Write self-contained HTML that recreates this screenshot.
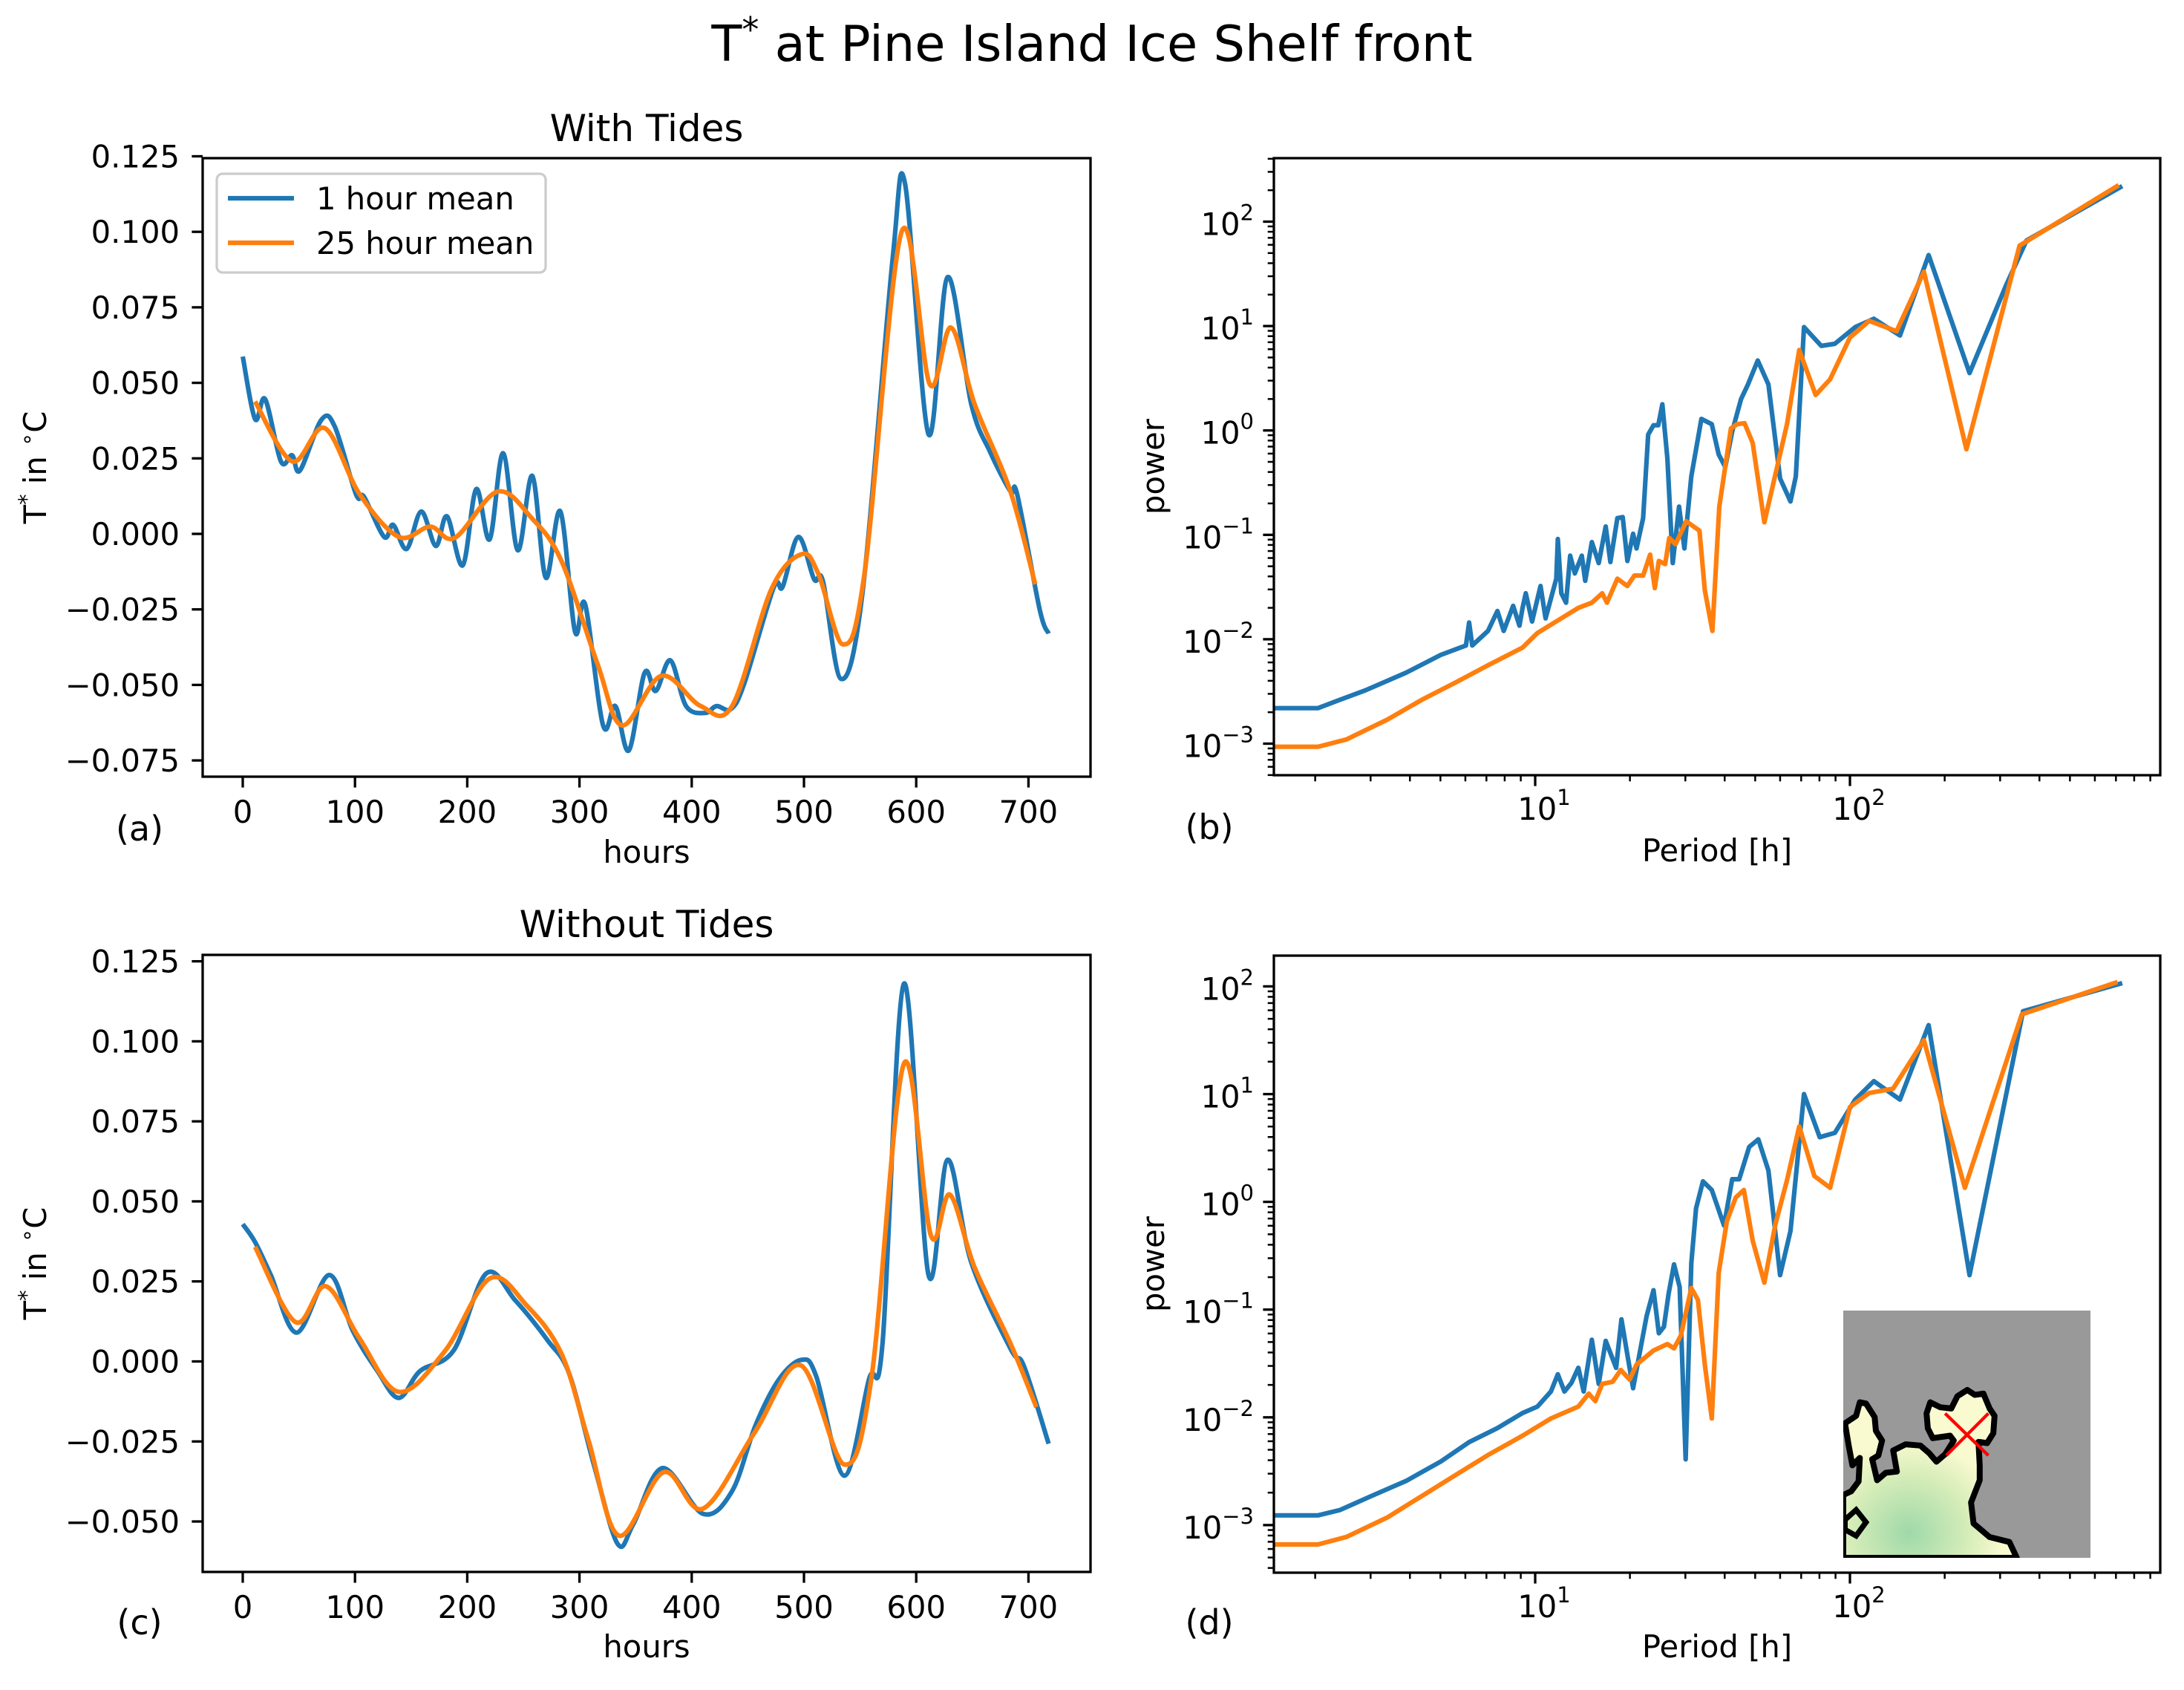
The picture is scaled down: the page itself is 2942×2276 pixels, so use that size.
<!DOCTYPE html>
<html><head><meta charset="utf-8"><style>
html,body{margin:0;padding:0;background:#fff;}
svg{display:block;font-family:"DejaVu Sans","Liberation Sans",sans-serif;}
</style></head><body>
<svg id="fig" xmlns="http://www.w3.org/2000/svg" width="2942" height="2276" viewBox="0 0 2942 2276">
<rect x="0" y="0" width="2942" height="2276" fill="#fff"/>
<text x="1471" y="82" font-size="67" text-anchor="middle">T<tspan font-size="46" dy="-26">*</tspan><tspan dy="26"> at Pine Island Ice Shelf front</tspan></text>
</svg>
<script>
// ---------- data: panel (a) with tides ----------
const hoursA1h=[0,11,20,34,44,51,70,82,101,108,126,134,146,159,172,182,196,208,220,232,245,258,270,283,296,305,321,332,344,358,368,381,395,412,422,435,447,473,481,495,509,517,533,552,579,590,611,628,649,666,684,690,710,718];
const tempA1h=[0.0587,0.038,0.0446,0.024,0.026,0.021,0.0377,0.0355,0.013,0.0123,-0.001,0.003,-0.005,0.0074,-0.004,0.0058,-0.0104,0.0148,-0.0018,0.0267,-0.0054,0.0192,-0.0145,0.0074,-0.0324,-0.0233,-0.0634,-0.057,-0.0717,-0.046,-0.052,-0.0419,-0.057,-0.0593,-0.057,-0.058,-0.0493,-0.0178,-0.0175,-0.001,-0.015,-0.0158,-0.048,-0.020,0.091,0.116,0.033,0.085,0.043,0.027,0.014,0.013,-0.025,-0.033];
const hoursA25h=[11,44,73,104,139,167,189,227,258,284,316,338,373,408,436,471,498,513,535,554,587,612,631,652,684,706];
const tempA25h=[0.0438,0.024,0.035,0.0132,-0.001,0.0024,-0.0013,0.014,0.005,-0.009,-0.043,-0.0634,-0.047,-0.057,-0.057,-0.0183,-0.0067,-0.0134,-0.0366,-0.013,0.100,0.0496,0.0683,0.043,0.014,-0.0167];
// ---------- data: panel (c) without tides ----------
const hoursC1h=[0,11,25,48,77,98,120,139,158,188,217,243,272,291,313,334,348,374,410,436,457,478,498,511,536,558,570,589,611,628,649,684,696,718];
const tempC1h=[0.0429,0.0373,0.027,0.009,0.027,0.0096,-0.003,-0.0114,-0.003,0.0035,0.0275,0.019,0.0064,-0.004,-0.0325,-0.057,-0.0508,-0.0333,-0.0476,-0.0405,-0.0198,-0.0055,0.0005,-0.0047,-0.0357,-0.0055,0.0056,0.118,0.027,0.063,0.031,0.004,-0.0015,-0.0257];
const hoursC25h=[11,47,74,104,139,180,220,253,284,308,335,375,410,456,497,536,560,589,613,630,652,684,707];
const tempC25h=[0.0358,0.0123,0.0235,0.0072,-0.0095,0.0032,0.0259,0.0175,0.0024,-0.0246,-0.0544,-0.0346,-0.046,-0.0222,-0.0012,-0.0322,-0.0055,0.093,0.0394,0.0521,0.0294,0.0056,-0.0143];
// ---------- data: panel (b) spectrum with tides (log10 values) ----------
const periodLogB1h=[0.17,0.31,0.38,0.46,0.59,0.70,0.78,0.79,0.80,0.85,0.88,0.90,0.93,0.95,0.96,0.97,0.99,1.017,1.033,1.067,1.072,1.083,1.098,1.111,1.126,1.148,1.159,1.180,1.202,1.224,1.239,1.261,1.278,1.293,1.311,1.322,1.343,1.359,1.376,1.391,1.404,1.420,1.437,1.457,1.474,1.496,1.528,1.561,1.583,1.604,1.626,1.654,1.676,1.707,1.741,1.778,1.811,1.828,1.854,1.909,1.952,2.017,2.076,2.159,2.250,2.380,2.496,2.561,2.865];
const powerLogB1h=[-2.66,-2.66,-2.58,-2.49,-2.32,-2.15,-2.06,-1.84,-2.06,-1.92,-1.73,-1.92,-1.68,-1.87,-1.70,-1.56,-1.83,-1.49,-1.80,-1.42,-1.04,-1.56,-1.65,-1.20,-1.37,-1.20,-1.44,-1.07,-1.27,-0.92,-1.26,-0.84,-0.83,-1.25,-0.99,-1.13,-0.84,-0.04,0.05,0.05,0.25,-0.27,-1.27,-0.73,-1.13,-0.44,0.11,0.06,-0.23,-0.35,-0.01,0.30,0.44,0.67,0.44,-0.46,-0.68,-0.44,0.99,0.81,0.83,0.99,1.07,0.91,1.68,0.55,1.39,1.82,2.34];
const periodLogB25h=[0.17,0.31,0.40,0.53,0.64,0.75,0.85,0.96,1.007,1.072,1.137,1.180,1.213,1.228,1.261,1.293,1.315,1.343,1.365,1.380,1.393,1.413,1.426,1.446,1.480,1.522,1.539,1.563,1.585,1.622,1.641,1.665,1.691,1.728,1.800,1.839,1.891,1.937,2.0,2.061,2.148,2.235,2.370,2.539,2.854];
const powerLogB25h=[-3.03,-3.03,-2.96,-2.77,-2.58,-2.41,-2.25,-2.08,-1.94,-1.82,-1.70,-1.65,-1.56,-1.65,-1.42,-1.49,-1.39,-1.39,-1.19,-1.51,-1.25,-1.28,-1.03,-1.09,-0.87,-0.96,-1.53,-1.92,-0.73,0.02,0.06,0.07,-0.12,-0.88,0.06,0.77,0.34,0.49,0.89,1.05,0.95,1.52,-0.18,1.77,2.35];
// ---------- data: panel (d) spectrum without tides (log10 values) ----------
const periodLogD1h=[0.17,0.31,0.38,0.48,0.59,0.70,0.79,0.88,0.96,1.007,1.050,1.072,1.093,1.115,1.137,1.154,1.180,1.202,1.224,1.257,1.274,1.293,1.311,1.354,1.376,1.393,1.409,1.424,1.441,1.459,1.478,1.496,1.511,1.533,1.561,1.600,1.626,1.648,1.680,1.709,1.741,1.778,1.811,1.854,1.904,1.952,2.017,2.076,2.159,2.250,2.380,2.550,2.865];
const powerLogD1h=[-2.91,-2.91,-2.86,-2.73,-2.59,-2.41,-2.23,-2.10,-1.96,-1.90,-1.76,-1.60,-1.76,-1.68,-1.54,-1.76,-1.28,-1.69,-1.29,-1.54,-1.09,-1.42,-1.73,-1.06,-0.82,-1.22,-1.16,-0.85,-0.58,-0.79,-2.39,-0.57,-0.06,0.19,0.11,-0.22,0.21,0.21,0.51,0.58,0.29,-0.68,-0.27,1.0,0.60,0.64,0.95,1.12,0.95,1.64,-0.68,1.77,2.03];
const periodLogD25h=[0.17,0.31,0.40,0.53,0.64,0.75,0.85,0.96,1.050,1.137,1.170,1.191,1.213,1.246,1.272,1.300,1.322,1.376,1.420,1.441,1.463,1.496,1.517,1.539,1.561,1.583,1.609,1.637,1.663,1.691,1.728,1.763,1.800,1.839,1.887,1.937,2.0,2.061,2.137,2.235,2.365,2.546,2.850];
const powerLogD25h=[-3.18,-3.18,-3.11,-2.93,-2.73,-2.53,-2.35,-2.17,-2.01,-1.90,-1.78,-1.85,-1.69,-1.67,-1.56,-1.65,-1.51,-1.38,-1.32,-1.36,-1.24,-0.80,-0.91,-1.51,-2.01,-0.66,-0.18,0.04,0.11,-0.36,-0.75,-0.21,0.20,0.70,0.24,0.13,0.88,1.01,1.05,1.50,0.13,1.74,2.04];
// ---------- tick labels ----------
const hourTicks=[0,100,200,300,400,500,600,700];
const tempTicksA=[0.125,0.100,0.075,0.050,0.025,0,-0.025,-0.050,-0.075];
const tempTickLabelsA=["0.125","0.100","0.075","0.050","0.025","0.000","\u22120.025","\u22120.050","\u22120.075"];
const tempTicksC=[0.125,0.100,0.075,0.050,0.025,0,-0.025,-0.050];
const tempTickLabelsC=["0.125","0.100","0.075","0.050","0.025","0.000","\u22120.025","\u22120.050"];
const powerTickExps=[-3,-2,-1,0,1,2];
const periodTickExps=[1,2];

const NS='http://www.w3.org/2000/svg';
const svg=document.getElementById('fig');
function mk(tag,attrs,parent){const e=document.createElementNS(NS,tag);for(const k in attrs)e.setAttribute(k,attrs[k]);(parent||svg).appendChild(e);return e;}
const C1='#1f77b4',C2='#ff7f0e';

function smoothPath(xs,ys){
  let d='M'+xs[0].toFixed(1)+','+ys[0].toFixed(1);
  for(let i=0;i<xs.length-1;i++){
    const x0=xs[Math.max(i-1,0)],y0=ys[Math.max(i-1,0)],x1=xs[i],y1=ys[i],x2=xs[i+1],y2=ys[i+1],x3=xs[Math.min(i+2,xs.length-1)],y3=ys[Math.min(i+2,xs.length-1)];
    const c1x=x1+(x2-x0)/6,c1y=y1+(y2-y0)/6,c2x=x2-(x3-x1)/6,c2y=y2-(y3-y1)/6;
    d+=' C'+c1x.toFixed(1)+','+c1y.toFixed(1)+' '+c2x.toFixed(1)+','+c2y.toFixed(1)+' '+x2.toFixed(1)+','+y2.toFixed(1);
  }
  return d;
}
function linePath(xs,ys){return xs.map((x,i)=>(i?'L':'M')+x.toFixed(1)+','+ys[i].toFixed(1)).join(' ');}

function frame(p,id){
  const cp=mk('clipPath',{id:id});
  mk('rect',{x:p.l,y:p.t,width:p.r-p.l,height:p.b-p.t},cp);
}
function border(p,name){
  const r=mk('rect',{x:p.l,y:p.t,width:p.r-p.l,height:p.b-p.t,fill:'none',stroke:'#000','stroke-width':3.3});
  
  
}

// ----- linear panels -----
function linearPanel(p){
  const xs=h=>p.x0+h*p.kx, ys=v=>p.y0-v*p.ky;
  frame(p,p.id+'-clip');
  const g=mk('g',{'clip-path':'url(#'+p.id+'-clip)'});
  
  
  const l1=mk('path',{d:smoothPath(p.h1.map(xs),p.v1.map(ys)),fill:'none',stroke:C1,'stroke-width':6.2,'stroke-linejoin':'round'},g);
  
  
  const l2=mk('path',{d:smoothPath(p.h25.map(xs),p.v25.map(ys)),fill:'none',stroke:C2,'stroke-width':6.2,'stroke-linejoin':'round'},g);
  
  
  border(p,p.id+'-axes-frame');
  hourTicks.forEach(h=>{
    const x=xs(h);
    const t=mk('line',{x1:x,x2:x,y1:p.b,y2:p.b+14.6,stroke:'#000','stroke-width':3.3});
    
    
    const tx=mk('text',{x:x,y:p.b+62,'font-size':41.7,'text-anchor':'middle'});
    tx.textContent=String(h);
    
    
  });
  p.yt.forEach((v,i)=>{
    const y=ys(v);
    const t=mk('line',{x1:p.l-14.6,x2:p.l,y1:y,y2:y,stroke:'#000','stroke-width':3.3});
    
    
    const tx=mk('text',{x:p.l-31,y:y+15,'font-size':41.7,'text-anchor':'end'});
    tx.textContent=p.ytl[i];
    
    
  });
  const cx=(p.l+p.r)/2;
  const tt=mk('text',{x:cx,y:p.titleY,'font-size':50,'text-anchor':'middle'});
  tt.textContent=p.title;
  
  
  const xl=mk('text',{x:cx,y:p.xlabY,'font-size':41.7,'text-anchor':'middle'});
  xl.textContent='hours';
  
  
  const my=(p.t+p.b)/2;
  const yl=mk('text',{x:62,y:my,'font-size':41.7,'text-anchor':'middle',transform:'rotate(-90 62 '+my+')'});
  yl.innerHTML='T<tspan font-size="29" dy="-16">*</tspan><tspan dy="16"> in </tspan><tspan font-size="29" dy="-16">\u2218</tspan><tspan dy="16">C</tspan>';
  
  
  const pl=mk('text',{x:188,y:p.tagY,'font-size':46,'text-anchor':'middle'});
  pl.textContent=p.tag;
  
  
}

// ----- log panels -----
function logPanel(p){
  const xs=L=>2068+(L-1)*424, ys=L=>p.y2-(L-2)*p.dec;
  frame(p,p.id+'-clip');
  const g=mk('g',{'clip-path':'url(#'+p.id+'-clip)'});
  
  
  const l1=mk('path',{d:linePath(p.x1.map(xs),p.y1.map(ys)),fill:'none',stroke:C1,'stroke-width':6.2,'stroke-linejoin':'round'},g);
  
  
  const l2=mk('path',{d:linePath(p.x25.map(xs),p.y25.map(ys)),fill:'none',stroke:C2,'stroke-width':6.2,'stroke-linejoin':'round'},g);
  
  
  if(p.inset) drawInset();
  border(p,p.id+'-axes-frame');
  // major x ticks
  periodTickExps.forEach(e=>{
    const x=xs(e);
    const t=mk('line',{x1:x,x2:x,y1:p.b,y2:p.b+14.6,stroke:'#000','stroke-width':3.3});
    
    
    const tx=mk('text',{x:x+12,y:p.b+60,'font-size':41.7,'text-anchor':'middle'});
    tx.innerHTML='10<tspan font-size="29" dy="-20">'+e+'</tspan>';
    
    
  });
  for(let d=0;d<3;d++)for(let k=2;k<10;k++){
    const L=d+Math.log10(k), x=xs(L);
    if(x<p.l||x>p.r)continue;
    const t=mk('line',{x1:x,x2:x,y1:p.b,y2:p.b+8.3,stroke:'#000','stroke-width':2.5});
    
    
  }
  powerTickExps.forEach(e=>{
    const y=ys(e);
    const t=mk('line',{x1:p.l-14.6,x2:p.l,y1:y,y2:y,stroke:'#000','stroke-width':3.3});
    
    
    const tx=mk('text',{x:p.l-27,y:y+18,'font-size':41.7,'text-anchor':'end'});
    tx.innerHTML='10<tspan font-size="29" dy="-20">'+String(e).replace('-','\u2212')+'</tspan>';
    
    
  });
  for(let d=-4;d<3;d++)for(let k=2;k<10;k++){
    const y=ys(d+Math.log10(k));
    if(y<p.t||y>p.b)continue;
    const t=mk('line',{x1:p.l-8.3,x2:p.l,y1:y,y2:y,stroke:'#000','stroke-width':2.5});
    
    
  }
  const cx=(p.l+p.r)/2;
  const xl=mk('text',{x:cx,y:p.xlabY,'font-size':41.7,'text-anchor':'middle'});
  xl.textContent='Period [h]';
  
  
  const my=(p.t+p.b)/2;
  const yl=mk('text',{x:1568,y:my,'font-size':41.7,'text-anchor':'middle',transform:'rotate(-90 1568 '+my+')'});
  yl.textContent='power';
  
  
  const pl=mk('text',{x:1629,y:p.tagY,'font-size':46,'text-anchor':'middle'});
  pl.textContent=p.tag;
  
  
}

function drawInset(){
  const g=mk('svg',{x:2483,y:1765,width:333,height:333,viewBox:'8 14 1000 1000',preserveAspectRatio:'none'});
  
  
  const defs=mk('defs',{},g);
  const rg=mk('radialGradient',{id:'iceGrad',cx:'0.38',cy:'0.85',r:'0.55'},defs);
  mk('stop',{offset:'0','stop-color':'#9fd9a9'},rg);
  mk('stop',{offset:'0.6','stop-color':'#d4ecb8'},rg);
  mk('stop',{offset:'1','stop-color':'#fafad0'},rg);
  const bg=mk('rect',{x:8,y:14,width:1000,height:1000,fill:'#999999'},g);
  
  
  const land=mk('polygon',{points:'8,1014 8,760 40,745 70,705 75,610 45,640 30,560 15,470 60,440 75,385 100,390 135,445 140,500 165,540 150,600 125,615 145,700 180,670 225,665 210,580 260,555 320,560 355,590 385,625 420,595 455,540 440,520 370,530 350,490 345,430 360,385 400,405 445,410 470,360 510,335 540,355 575,350 600,410 620,440 615,510 590,550 555,545 560,640 560,700 525,790 535,875 600,930 680,950 710,1014',fill:'url(#iceGrad)',stroke:'#000','stroke-width':24,'stroke-linejoin':'round'},g);
  
  
  const isl=mk('polygon',{points:'15,860 60,820 100,870 60,925 15,900',fill:'none',stroke:'#000','stroke-width':22},g);
  
  
  const m1=mk('line',{x1:420,y1:430,x2:595,y2:600,stroke:'#ff0000','stroke-width':13},g);
  
  
  const m2=mk('line',{x1:595,y1:430,x2:425,y2:600,stroke:'#ff0000','stroke-width':13},g);
  
  
}

linearPanel({id:'panel-a',l:273,r:1469,t:213,b:1046,x0:327,kx:1.512,y0:719,ky:4068,h1:hoursA1h,v1:tempA1h,h25:hoursA25h,v25:tempA25h,yt:tempTicksA,ytl:tempTickLabelsA,title:'With Tides',titleY:190,xlabY:1162,tag:'(a)',tagY:1132});
linearPanel({id:'panel-c',l:273,r:1469,t:1286,b:2117,x0:327,kx:1.512,y0:1833.5,ky:4311,h1:hoursC1h,v1:tempC1h,h25:hoursC25h,v25:tempC25h,yt:tempTicksC,ytl:tempTickLabelsC,title:'Without Tides',titleY:1262,xlabY:2232,tag:'(c)',tagY:2201});
logPanel({id:'panel-b',l:1716,r:2910,t:213,b:1044,y2:298.5,dec:140.6,x1:periodLogB1h,y1:powerLogB1h,x25:periodLogB25h,y25:powerLogB25h,xlabY:1160,tag:'(b)',tagY:1130});
logPanel({id:'panel-d',l:1716,r:2910,t:1287,b:2118,y2:1328.4,dec:145.1,x1:periodLogD1h,y1:powerLogD1h,x25:periodLogD25h,y25:powerLogD25h,xlabY:2232,tag:'(d)',tagY:2201,inset:true});

// legend (panel a)
const lg=mk('g',{});


mk('rect',{x:292,y:234,width:443,height:133,rx:8,fill:'#fff','fill-opacity':0.8,stroke:'#cccccc','stroke-width':3.3},lg);
const le1=mk('line',{x1:307,x2:396,y1:267,y2:267,stroke:C1,'stroke-width':6.2},lg);


const lt1=mk('text',{x:426,y:282,'font-size':41.7},lg);
lt1.textContent='1 hour mean';


const le2=mk('line',{x1:307,x2:396,y1:327,y2:327,stroke:C2,'stroke-width':6.2},lg);


const lt2=mk('text',{x:426,y:342,'font-size':41.7},lg);
lt2.textContent='25 hour mean';


</script>
</body></html>
